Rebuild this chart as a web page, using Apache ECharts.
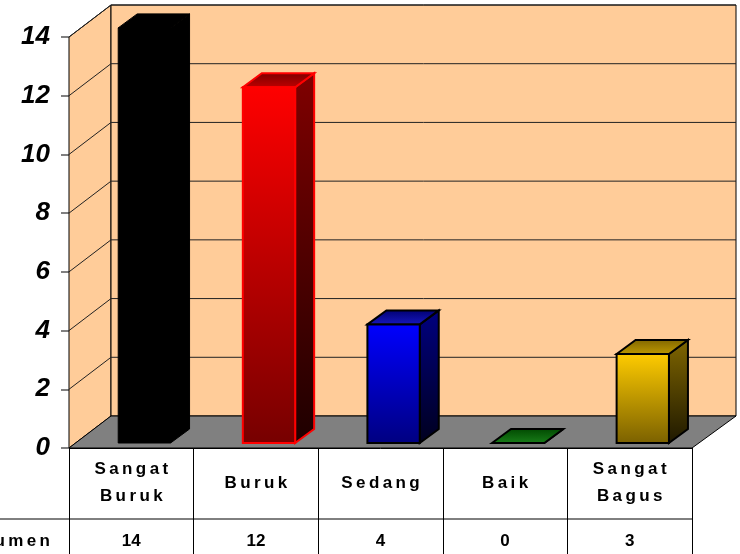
<!DOCTYPE html>
<html>
<head>
<meta charset="utf-8">
<script src="https://cdn.jsdelivr.net/npm/echarts@6/dist/echarts.min.js"></script>
<style>
  html, body { margin: 0; padding: 0; background: #fff; }
  #chart { width: 740px; height: 554px; }
</style>
</head>
<body>
<div id="chart"></div>
<script>
var categories = ['Sangat Buruk', 'Buruk', 'Sedang', 'Baik', 'Sangat Bagus'];
var values = [14, 12, 4, 0, 3];
var yTicks = [0, 2, 4, 6, 8, 10, 12, 14];
var rowLabel = 'Jumlah Dokumen';

// per bar: front top/bottom, side top/bottom, top back/front, stroke, stroke width
var barColors = [
  { front: ['#000000', '#000000'], side: ['#000000', '#000000'], top: ['#000000', '#000000'], stroke: '#000000', lw: 1 },
  { front: ['#ff0000', '#760000'], side: ['#800000', '#1e0000'], top: ['#7a0000', '#c00000'], stroke: '#ff0000', lw: 2 },
  { front: ['#0000ff', '#000080'], side: ['#000080', '#00001e'], top: ['#000070', '#1818c0'], stroke: '#000000', lw: 2 },
  { front: ['#008000', '#004000'], side: ['#004000', '#001000'], top: ['#004800', '#1a801a'], stroke: '#000000', lw: 2 },
  { front: ['#ffcc00', '#7a6000'], side: ['#806600', '#1e1800'], top: ['#806600', '#c09a00'], stroke: '#000000', lw: 2 }
];

var FONT = '"Liberation Sans", Arial, sans-serif';
var DX = 42, DY = 32;      // depth of the walls
var BDX = 19, BDY = 14;    // depth of the bars
var GAP = '\u2009';

function spaced(s) {
  return s.split(' ').map(function (w) { return w.split('').join(GAP); }).join('\n');
}

function grad(c) {
  return new echarts.graphic.LinearGradient(0, 0, 0, 1, [
    { offset: 0, color: c[0] }, { offset: 1, color: c[1] }
  ]);
}

function renderFrame(params, api) {
  var cs = params.coordSys;
  var x0 = cs.x, x1 = cs.x + cs.width;
  var yT = cs.y, yB = cs.y + cs.height;
  var kids = [];
  // left wall
  kids.push({ type: 'polygon', shape: { points: [[x0, yT], [x0 + DX, yT - DY], [x0 + DX, yB - DY], [x0, yB]] },
    style: { fill: '#ffcc99', stroke: '#000', lineWidth: 1 } });
  // back wall
  kids.push({ type: 'rect', shape: { x: x0 + DX, y: yT - DY, width: x1 - x0 + 2, height: yB - yT },
    style: { fill: '#ffcc99', stroke: '#000', lineWidth: 1 } });
  // grid lines
  yTicks.forEach(function (t) {
    if (t === 0) return;
    var y = api.coord([0, t])[1];
    kids.push({ type: 'polyline', shape: { points: [[x0, y], [x0 + DX, y - DY], [x1 + DX + 2, y - DY]] },
      style: { fill: null, stroke: '#222', lineWidth: 1 } });
  });
  // floor
  kids.push({ type: 'polygon', shape: { points: [[x0, yB], [x1, yB], [x1 + DX + 2, yB - DY], [x0 + DX, yB - DY]] },
    style: { fill: '#808080', stroke: '#000', lineWidth: 1 } });
  // table row line
  kids.push({ type: 'line', shape: { x1: 0, y1: yB + 71, x2: x1, y2: yB + 71 },
    style: { stroke: '#000', lineWidth: 1 } });
  return { type: 'group', children: kids };
}

function renderBar(params, api) {
  var i = api.value(0), v = api.value(1);
  var base = api.coord([i, 0]), top = api.coord([i, v]);
  var bw = api.size([1, 0])[0];
  var xl = base[0] - bw * 0.105, xr = xl + bw * 0.42;
  var yb = base[1] - 5, yt = yb - (base[1] - top[1]) * 1.01;
  var c = barColors[i];
  var st = { stroke: c.stroke, lineWidth: c.lw, lineJoin: 'miter' };
  return {
    type: 'group',
    children: [
      { type: 'polygon', shape: { points: [[xr, yb], [xr + BDX, yb - BDY], [xr + BDX, yt - BDY], [xr, yt]] },
        style: Object.assign({ fill: grad(c.side) }, st) },
      { type: 'polygon', shape: { points: [[xl, yt], [xl + BDX, yt - BDY], [xr + BDX, yt - BDY], [xr, yt]] },
        style: Object.assign({ fill: grad(c.top) }, st) },
      { type: 'rect', shape: { x: xl, y: yt, width: xr - xl, height: yb - yt },
        style: Object.assign({ fill: grad(c.front) }, st) }
    ]
  };
}

var chart = echarts.init(document.getElementById('chart'));
chart.setOption({
  animation: false,
  backgroundColor: '#ffffff',
  grid: { left: 69, right: 48, top: 37, bottom: 106 },
  xAxis: [
    {
      type: 'category',
      data: categories,
      boundaryGap: true,
      axisLine: { show: true, lineStyle: { color: '#000', width: 1 } },
      axisTick: { show: true, length: 110, lineStyle: { color: '#000', width: 1 } },
      axisLabel: {
        interval: 0, margin: 35, verticalAlign: 'middle', lineHeight: 27,
        color: '#000', fontFamily: FONT, fontWeight: 'bold', fontSize: 17,
        formatter: function (s) { return spaced(s); }
      },
      splitLine: { show: false }
    },
    {
      type: 'category',
      data: values.map(String),
      position: 'bottom',
      offset: 71,
      axisLine: { show: false },
      axisTick: { show: false },
      axisLabel: {
        interval: 0, margin: 22, verticalAlign: 'middle',
        color: '#000', fontFamily: FONT, fontWeight: 'bold', fontSize: 17
      },
      splitLine: { show: false }
    }
  ],
  yAxis: {
    type: 'value',
    min: 0, max: 14, interval: 2,
    axisLine: { show: true, lineStyle: { color: '#000', width: 1 } },
    axisTick: { show: true, length: 8, lineStyle: { color: '#808080', width: 2 } },
    axisLabel: {
      margin: 19, color: '#000', fontFamily: FONT,
      fontStyle: 'italic', fontWeight: 'bold', fontSize: 26
    },
    splitLine: { show: false }
  },
  graphic: [
    {
      type: 'text', x: 50, y: 541,
      style: {
        text: spaced('Jumlah') + '  ' + spaced('Dokumen'),
        align: 'right', verticalAlign: 'middle',
        fill: '#000', font: 'bold 17px ' + FONT
      }
    }
  ],
  series: [
    { type: 'custom', renderItem: renderFrame, data: [[0, 0]], z: 1, silent: true },
    { type: 'custom', renderItem: renderBar, data: values.map(function (v, i) { return [i, v]; }), z: 3 }
  ]
});
</script>
</body>
</html>
